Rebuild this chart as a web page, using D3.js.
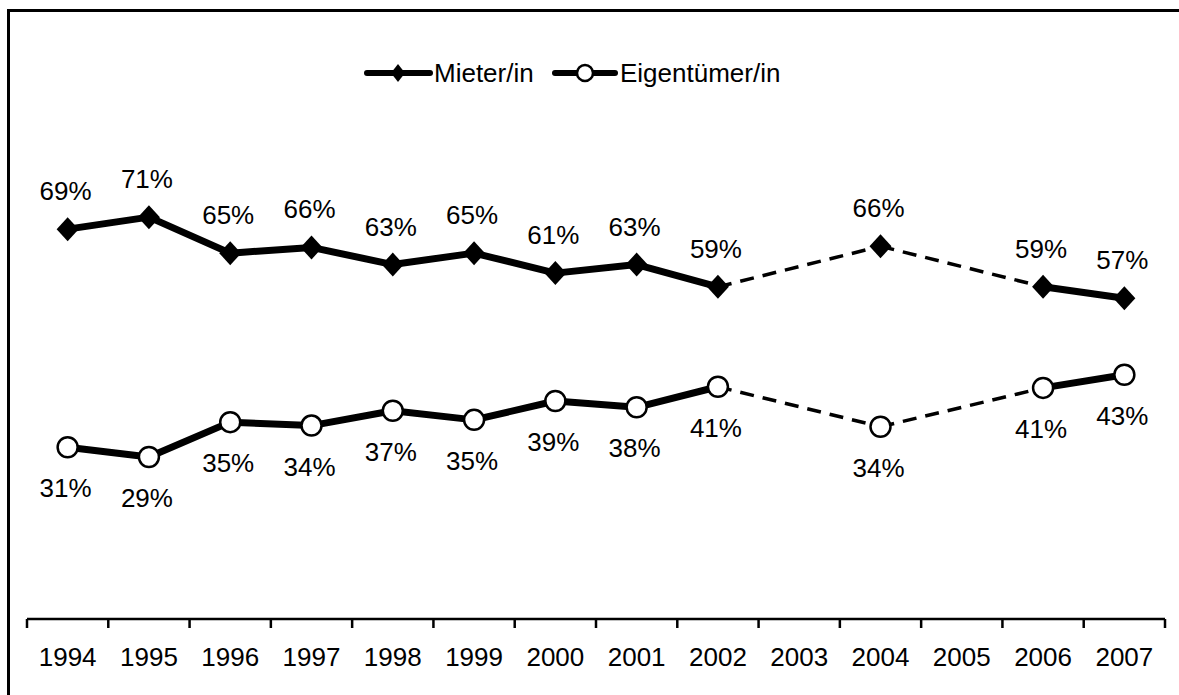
<!DOCTYPE html>
<html>
<head>
<meta charset="utf-8">
<script src="https://cdn.jsdelivr.net/npm/d3@7"></script>
<style>
  html, body { margin: 0; padding: 0; background: #fff; overflow: hidden; }
  svg { display: block; }
  text { font-family: "Liberation Sans", Arial, sans-serif; fill: #000; }
</style>
</head>
<body>
<svg id="chart" width="1179" height="695"></svg>
<script>
// ---- data ----
const categories = ["1994","1995","1996","1997","1998","1999","2000","2001","2002","2003","2004","2005","2006","2007"];
const dataYears = ["1994","1995","1996","1997","1998","1999","2000","2001","2002","2004","2006","2007"];
const mieterValues = [68.8, 70.9, 64.6, 65.6, 62.6, 64.6, 61.1, 62.6, 58.7, 65.8, 58.7, 56.7];
const eigentuemerValues = [30.6, 28.9, 35.0, 34.4, 37.0, 35.4, 38.7, 37.6, 41.2, 34.2, 41.0, 43.3];
const seriesNames = ["Mieter/in", "Eigentümer/in"];

// ---- setup ----
const svg = d3.select("#chart");
const W = 1179, H = 695;
svg.append("rect").attr("width", W).attr("height", H).attr("fill", "#fff");

// outer frame: only left and top edges are inside the picture
svg.append("path")
  .attr("d", `M8.5,${H + 5} V10.5 H${W + 5}`)
  .attr("fill", "none").attr("stroke", "#000").attr("stroke-width", 3);

const x = d3.scaleBand().domain(categories).range([27, 1165]).paddingInner(0).paddingOuter(0);
const y = d3.scaleLinear().domain([0, 100]).range([622, 51]);
const axisY = 619;
const FS = 26;

// x axis
const axisG = svg.append("g").attr("transform", `translate(0,${axisY})`);
axisG.append("line").attr("x1", 27).attr("x2", 1165).attr("y1", 0).attr("y2", 0)
  .attr("stroke", "#000").attr("stroke-width", 2.5);
const bounds = categories.map(c => x(c)).concat([x(categories[categories.length-1]) + x.bandwidth()]);
axisG.selectAll("line.tick").data(bounds).enter().append("line")
  .attr("class", "tick")
  .attr("x1", d => d).attr("x2", d => d).attr("y1", 0).attr("y2", 9)
  .attr("stroke", "#000").attr("stroke-width", 2.5);
axisG.selectAll("text.tl").data(categories).enter().append("text")
  .attr("class", "tl")
  .attr("x", d => x(d) + x.bandwidth() / 2)
  .attr("y", 47)
  .attr("text-anchor", "middle")
  .attr("font-size", FS)
  .text(d => d);

const cx = d => x(d) + x.bandwidth() / 2;

function buildSeries(values) {
  return dataYears.map((yr, i) => ({ year: yr, idx: categories.indexOf(yr), v: values[i] }));
}
const series = [
  { name: seriesNames[0], pts: buildSeries(mieterValues), marker: "diamond", labelPos: "above" },
  { name: seriesNames[1], pts: buildSeries(eigentuemerValues), marker: "circle", labelPos: "below" }
];

const line = d3.line().x(d => cx(d.year)).y(d => y(d.v));

series.forEach(s => {
  const g = svg.append("g");
  for (let i = 0; i < s.pts.length - 1; i++) {
    const a = s.pts[i], b = s.pts[i + 1];
    const gap = b.idx - a.idx > 1;
    g.append("path")
      .attr("d", line([a, b]))
      .attr("fill", "none")
      .attr("stroke", "#000")
      .attr("stroke-width", gap ? 3.5 : 7)
      .attr("stroke-dasharray", gap ? "14,9" : null)
      .attr("stroke-linecap", gap ? "butt" : "round");
  }
  // markers
  if (s.marker === "diamond") {
    g.selectAll("path.m").data(s.pts).enter().append("path")
      .attr("class", "m")
      .attr("d", d => { const px = cx(d.year), py = y(d.v);
        return `M${px},${py-12} L${px+11},${py} L${px},${py+12} L${px-11},${py} Z`; })
      .attr("fill", "#000");
  } else {
    g.selectAll("circle.m").data(s.pts).enter().append("circle")
      .attr("class", "m")
      .attr("cx", d => cx(d.year)).attr("cy", d => y(d.v)).attr("r", 10)
      .attr("fill", "#fff").attr("stroke", "#000").attr("stroke-width", 2.5);
  }
  // labels
  g.selectAll("text.lab").data(s.pts).enter().append("text")
    .attr("class", "lab")
    .attr("x", d => cx(d.year) - 2)
    .attr("y", d => s.labelPos === "above" ? y(d.v) - 29 : y(d.v) + 50)
    .attr("text-anchor", "middle")
    .attr("font-size", FS)
    .text(d => Math.round(d.v) + "%");
});

// legend
const lg = svg.append("g");
const legY = 73;
lg.append("line").attr("x1", 367).attr("x2", 430).attr("y1", legY).attr("y2", legY)
  .attr("stroke", "#000").attr("stroke-width", 6).attr("stroke-linecap", "round");
lg.append("path").attr("d", `M398,${legY-9} L405,${legY} L398,${legY+9} L391,${legY} Z`).attr("fill", "#000");
lg.append("text").attr("x", 434).attr("y", legY + 9).attr("font-size", FS).text(seriesNames[0]);
lg.append("line").attr("x1", 555).attr("x2", 615).attr("y1", legY).attr("y2", legY)
  .attr("stroke", "#000").attr("stroke-width", 6).attr("stroke-linecap", "round");
lg.append("circle").attr("cx", 585).attr("cy", legY).attr("r", 8)
  .attr("fill", "#fff").attr("stroke", "#000").attr("stroke-width", 2.5);
lg.append("text").attr("x", 620).attr("y", legY + 9).attr("font-size", FS).text(seriesNames[1]);
</script>
</body>
</html>
